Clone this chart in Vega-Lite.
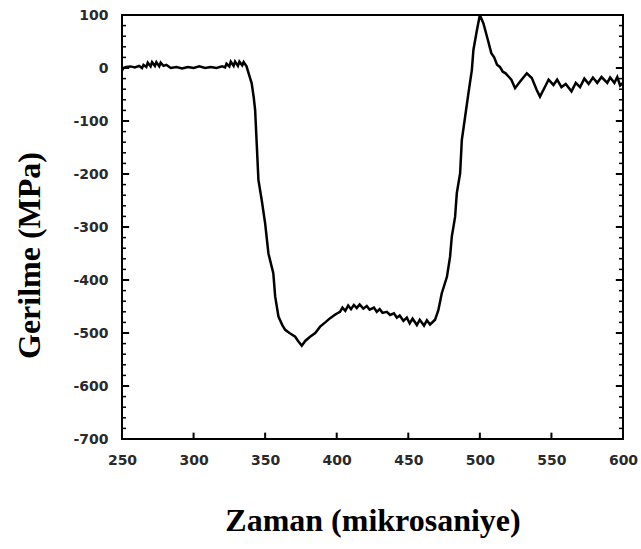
{
  "$schema": "https://vega.github.io/schema/vega-lite/v6.json",
  "width": 501,
  "height": 424,
  "autosize": {"type": "none"},
  "padding": {"left": 122, "top": 15, "right": 18, "bottom": 110},
  "background": "white",
  "config": {
    "view": {"stroke": "black", "strokeWidth": 2},
    "axis": {
      "domain": false,
      "grid": false,
      "labelFont": "DejaVu Sans",
      "labelFontWeight": "bold",
      "labelFontSize": 14,
      "labelColor": "#2a2a2a",
      "titleFont": "Liberation Serif",
      "titleFontWeight": "bold",
      "titleFontSize": 32,
      "titleColor": "black"
    }
  },
  "datasets": {
    "curve": [
      {"t": 250, "s": -5}, {"t": 251, "s": 0}, {"t": 253, "s": 2}, {"t": 256, "s": 3},
      {"t": 259, "s": 1}, {"t": 262, "s": 4}, {"t": 264, "s": 0}, {"t": 265, "s": 6},
      {"t": 267, "s": 2}, {"t": 268, "s": 10}, {"t": 270, "s": 3}, {"t": 271, "s": 11},
      {"t": 273, "s": 4}, {"t": 274, "s": 11}, {"t": 276, "s": 3}, {"t": 277, "s": 10},
      {"t": 279, "s": 4}, {"t": 281, "s": 6}, {"t": 284, "s": 0}, {"t": 288, "s": 2},
      {"t": 292, "s": -1}, {"t": 296, "s": 2}, {"t": 300, "s": 0}, {"t": 304, "s": 3},
      {"t": 308, "s": 0}, {"t": 312, "s": 2}, {"t": 316, "s": 0}, {"t": 320, "s": 3},
      {"t": 322, "s": 1}, {"t": 323, "s": 8}, {"t": 325, "s": 3}, {"t": 326, "s": 12},
      {"t": 328, "s": 4}, {"t": 329, "s": 12}, {"t": 331, "s": 4}, {"t": 332, "s": 12},
      {"t": 334, "s": 5}, {"t": 335, "s": 11}, {"t": 337, "s": 3}, {"t": 339, "s": -15},
      {"t": 340.6, "s": -29}, {"t": 342, "s": -55}, {"t": 343, "s": -79}, {"t": 344, "s": -136},
      {"t": 345.3, "s": -211}, {"t": 347.6, "s": -249}, {"t": 350, "s": -293}, {"t": 352.3, "s": -350},
      {"t": 355.7, "s": -387}, {"t": 357, "s": -431}, {"t": 359.3, "s": -469}, {"t": 362, "s": -485},
      {"t": 364, "s": -494}, {"t": 367, "s": -500}, {"t": 371, "s": -507}, {"t": 373, "s": -515},
      {"t": 375.6, "s": -524}, {"t": 378, "s": -515}, {"t": 381.4, "s": -507}, {"t": 385, "s": -500},
      {"t": 388.4, "s": -488}, {"t": 392, "s": -480}, {"t": 395.4, "s": -472}, {"t": 399, "s": -465},
      {"t": 402.3, "s": -460}, {"t": 404, "s": -452}, {"t": 406, "s": -458}, {"t": 408, "s": -448},
      {"t": 410, "s": -455}, {"t": 412, "s": -447}, {"t": 414, "s": -453}, {"t": 416, "s": -446},
      {"t": 418.6, "s": -454}, {"t": 421, "s": -449}, {"t": 423, "s": -456}, {"t": 426, "s": -452},
      {"t": 428, "s": -460}, {"t": 430, "s": -455}, {"t": 432, "s": -462}, {"t": 435, "s": -460},
      {"t": 437.3, "s": -466}, {"t": 440, "s": -463}, {"t": 442, "s": -471}, {"t": 444, "s": -467},
      {"t": 446.6, "s": -477}, {"t": 449, "s": -471}, {"t": 451, "s": -482}, {"t": 453, "s": -473},
      {"t": 456, "s": -485}, {"t": 458, "s": -475}, {"t": 461, "s": -486}, {"t": 463, "s": -476},
      {"t": 465.2, "s": -484}, {"t": 468.7, "s": -475}, {"t": 471, "s": -457}, {"t": 473.4, "s": -425},
      {"t": 477, "s": -394}, {"t": 479.2, "s": -356}, {"t": 480.4, "s": -318}, {"t": 482.7, "s": -281},
      {"t": 483.9, "s": -236}, {"t": 486.2, "s": -199}, {"t": 487.4, "s": -136}, {"t": 489.7, "s": -92},
      {"t": 492, "s": -48}, {"t": 494.4, "s": -4}, {"t": 495.5, "s": 34}, {"t": 498, "s": 72},
      {"t": 500, "s": 100}, {"t": 502.5, "s": 84}, {"t": 505, "s": 59}, {"t": 508, "s": 28},
      {"t": 510, "s": 20}, {"t": 512, "s": 6}, {"t": 514, "s": 2}, {"t": 516, "s": -7},
      {"t": 518, "s": -10}, {"t": 520, "s": -16}, {"t": 522, "s": -22}, {"t": 524.6, "s": -38},
      {"t": 528, "s": -26}, {"t": 532.8, "s": -10}, {"t": 536.3, "s": -19}, {"t": 539.8, "s": -42},
      {"t": 542, "s": -54}, {"t": 545.6, "s": -35}, {"t": 548, "s": -22}, {"t": 551.4, "s": -32},
      {"t": 554, "s": -22}, {"t": 557, "s": -36}, {"t": 560, "s": -30}, {"t": 564, "s": -44},
      {"t": 567, "s": -28}, {"t": 570, "s": -36}, {"t": 573, "s": -20}, {"t": 576, "s": -30},
      {"t": 579, "s": -18}, {"t": 582, "s": -28}, {"t": 585, "s": -17}, {"t": 589, "s": -28},
      {"t": 591, "s": -18}, {"t": 594, "s": -28}, {"t": 596, "s": -17}, {"t": 598, "s": -33},
      {"t": 600, "s": -28}
    ],
    "timeTicks": [
      {"t": 300}, {"t": 350}, {"t": 400}, {"t": 450}, {"t": 500}, {"t": 550}
    ],
    "stressMajor": [
      {"s": 0}, {"s": -100}, {"s": -200}, {"s": -300}, {"s": -400}, {"s": -500}, {"s": -600}
    ],
    "stressMinor": [
      {"s": 80}, {"s": 60}, {"s": 40}, {"s": 20}, {"s": -20}, {"s": -40}, {"s": -60}, {"s": -80},
      {"s": -120}, {"s": -140}, {"s": -160}, {"s": -180}, {"s": -220}, {"s": -240}, {"s": -260}, {"s": -280},
      {"s": -320}, {"s": -340}, {"s": -360}, {"s": -380}, {"s": -420}, {"s": -440}, {"s": -460}, {"s": -480},
      {"s": -520}, {"s": -540}, {"s": -560}, {"s": -580}, {"s": -620}, {"s": -640}, {"s": -660}, {"s": -680}
    ]
  },
  "layer": [
    {
      "data": {"name": "curve"},
      "mark": {"type": "line", "color": "black", "strokeWidth": 2.5, "clip": true, "interpolate": "linear"},
      "encoding": {
        "x": {
          "field": "t", "type": "quantitative",
          "scale": {"domain": [250, 600], "nice": false, "zero": false},
          "axis": {
            "title": "Zaman (mikrosaniye)",
            "values": [250, 300, 350, 400, 450, 500, 550, 600],
            "labelExpr": "toString(datum.value)",
            "ticks": false,
            "labelPadding": 14,
            "titlePadding": 38,
            "labelFlush": false
          }
        },
        "y": {
          "field": "s", "type": "quantitative",
          "scale": {"domain": [-700, 100], "nice": false, "zero": false},
          "axis": {
            "title": "Gerilme (MPa)",
            "titleY": 240,
            "values": [100, 0, -100, -200, -300, -400, -500, -600, -700],
            "labelExpr": "toString(datum.value)",
            "ticks": false,
            "labelPadding": 14,
            "titlePadding": 26,
            "labelFlush": false,
            "labelOverlap": false
          }
        }
      }
    },
    {
      "data": {"name": "timeTicks"},
      "mark": {"type": "rule", "color": "black", "strokeWidth": 2},
      "encoding": {
        "x": {"field": "t", "type": "quantitative"},
        "y": {"datum": -700, "type": "quantitative"},
        "y2": {"datum": -688}
      }
    },
    {
      "data": {"name": "stressMajor"},
      "mark": {"type": "rule", "color": "black", "strokeWidth": 2},
      "encoding": {
        "y": {"field": "s", "type": "quantitative"},
        "x": {"datum": 250, "type": "quantitative"},
        "x2": {"datum": 255}
      }
    },
    {
      "data": {"name": "stressMajor"},
      "mark": {"type": "rule", "color": "black", "strokeWidth": 2},
      "encoding": {
        "y": {"field": "s", "type": "quantitative"},
        "x": {"datum": 595, "type": "quantitative"},
        "x2": {"datum": 600}
      }
    },
    {
      "data": {"name": "stressMinor"},
      "mark": {"type": "rule", "color": "black", "strokeWidth": 1.5},
      "encoding": {
        "y": {"field": "s", "type": "quantitative"},
        "x": {"datum": 250, "type": "quantitative"},
        "x2": {"datum": 252.8}
      }
    },
    {
      "data": {"name": "stressMinor"},
      "mark": {"type": "rule", "color": "black", "strokeWidth": 1.5},
      "encoding": {
        "y": {"field": "s", "type": "quantitative"},
        "x": {"datum": 597.2, "type": "quantitative"},
        "x2": {"datum": 600}
      }
    }
  ]
}
